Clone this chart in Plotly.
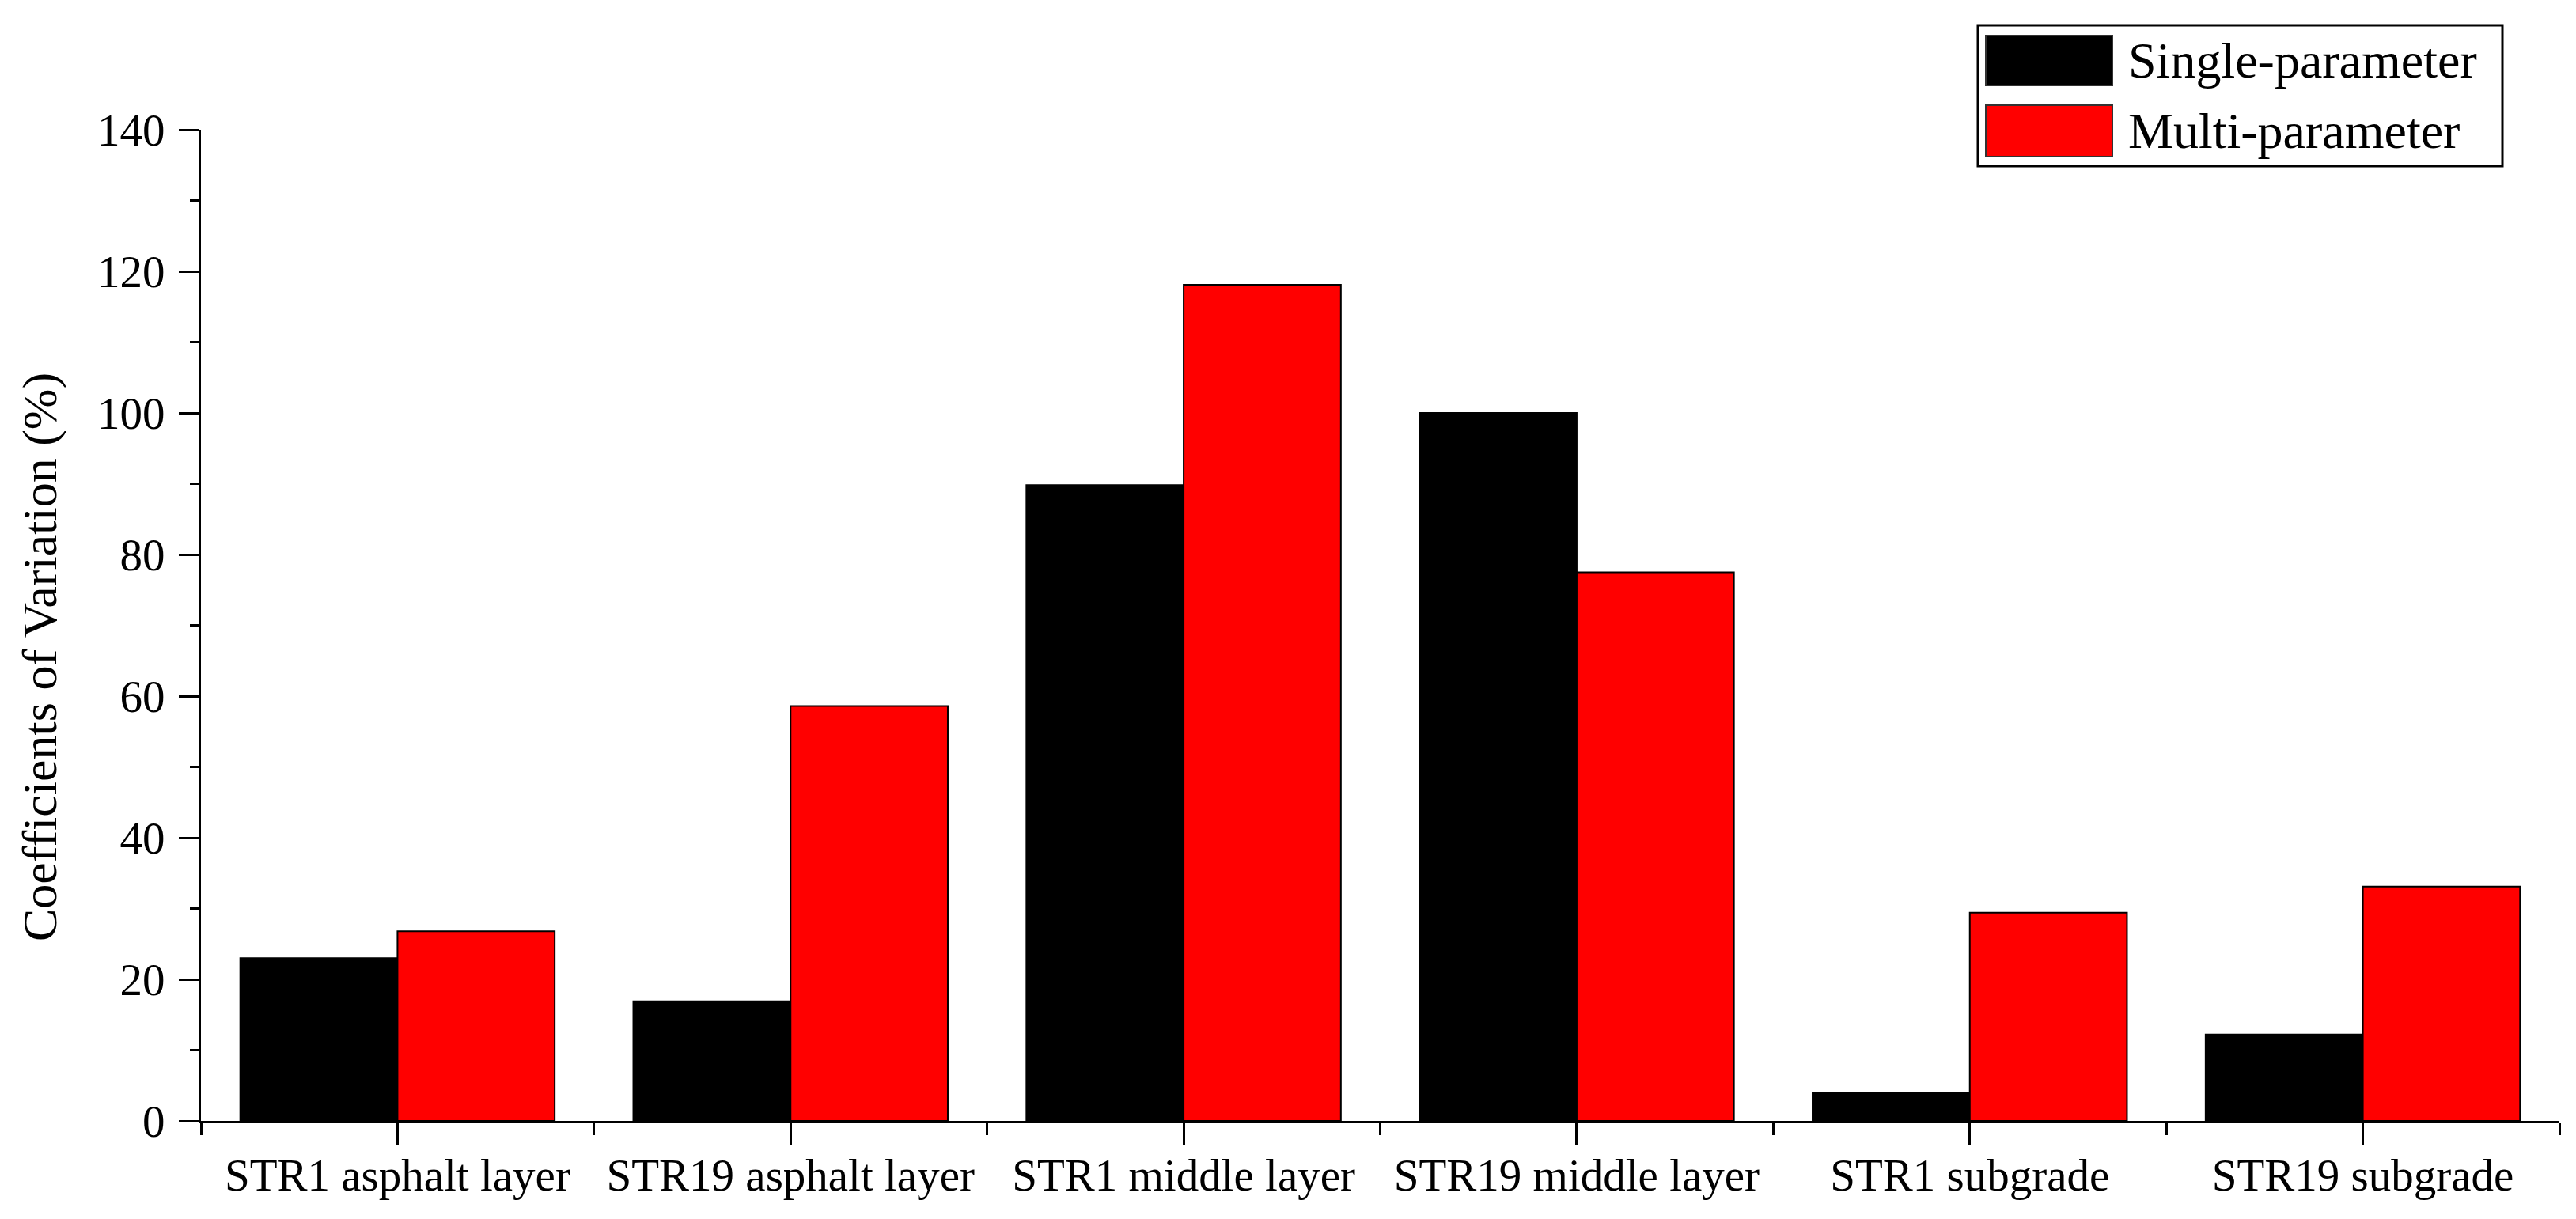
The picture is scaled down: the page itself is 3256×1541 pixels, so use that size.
import plotly.graph_objects as go

categories = ["STR1 asphalt layer", "STR19 asphalt layer", "STR1 middle layer",
              "STR19 middle layer", "STR1 subgrade", "STR19 subgrade"]
single_param = [23.0, 16.9, 89.8, 100.0, 3.9, 12.2]
multi_param = [26.8, 58.6, 118.1, 77.5, 29.4, 33.1]
series_names = ["Single-parameter", "Multi-parameter"]
series_colors = ["#000000", "#ff0000"]
y_ticks = [0, 20, 40, 60, 80, 100, 120, 140]

FONT = "Liberation Serif"
positions = list(range(len(categories)))
boundaries = [p - 0.5 for p in positions] + [positions[-1] + 0.5]

fig = go.Figure()
for name, vals, col in zip(series_names, [single_param, multi_param], series_colors):
    fig.add_trace(go.Bar(
        x=positions, y=vals, name=name,
        marker=dict(color=col, line=dict(color="#000000", width=2)),
        showlegend=False,
    ))

W, H = 3256, 1541
L, R, T, B = 254, 21, 164, 124
pw, ph = W - L - R, H - T - B


def px(xpix):
    return (xpix - L) / pw


def py(ypix):
    return (H - B - ypix) / ph


fig.update_layout(
    width=W, height=H,
    margin=dict(l=L, r=R, t=T, b=B),
    paper_bgcolor="white", plot_bgcolor="white",
    barmode="group", bargap=0.2, bargroupgap=0,
    font=dict(family=FONT, color="black", size=57),
    xaxis=dict(
        range=[-0.5, len(categories) - 0.5],
        tickmode="array", tickvals=positions, ticktext=categories,
        ticks="outside", ticklen=27, tickwidth=3, tickcolor="black",
        showline=True, linecolor="black", linewidth=3,
        showgrid=False, zeroline=False, ticklabelstandoff=-10,
        tickfont=dict(family=FONT, size=57, color="black"),
        minor=dict(tickmode="array", tickvals=boundaries, ticks="outside",
                   ticklen=15, tickwidth=3, tickcolor="black", showgrid=False),
    ),
    yaxis=dict(
        range=[0, 140],
        tickmode="array", tickvals=y_ticks,
        ticks="outside", ticklen=25, tickwidth=3, tickcolor="black",
        showline=True, linecolor="black", linewidth=3,
        showgrid=False, zeroline=False, ticklabelstandoff=6,
        tickfont=dict(family=FONT, size=57, color="black"),
        minor=dict(dtick=10, ticks="outside", ticklen=11, tickwidth=3,
                   tickcolor="black", showgrid=False),
    ),
)

# y-axis title
fig.add_annotation(
    text="Coefficients of Variation (%)", textangle=-90,
    xref="paper", yref="paper", x=px(50), y=py(831),
    xanchor="center", yanchor="middle", showarrow=False,
    font=dict(family=FONT, size=62, color="black"),
)

# custom legend
fig.add_shape(type="rect", xref="paper", yref="paper",
              x0=px(2500), x1=px(3163), y0=py(210), y1=py(32),
              line=dict(color="black", width=3), fillcolor="white", layer="above")
swatch_rows = [(45, 108), (133, 198)]
for (top, bot), name, col in zip(swatch_rows, series_names, series_colors):
    fig.add_shape(type="rect", xref="paper", yref="paper",
                  x0=px(2510), x1=px(2670), y0=py(bot), y1=py(top),
                  line=dict(color="#333333", width=2), fillcolor=col, layer="above")
    fig.add_annotation(
        text=name, xref="paper", yref="paper",
        x=px(2688), y=py((top + bot) / 2), xanchor="left", yanchor="middle",
        showarrow=False, font=dict(family=FONT, size=64, color="black"),
    )

fig.write_html("out.html", config={"displayModeBar": False},
               post_script="document.body.style.margin='0';")
